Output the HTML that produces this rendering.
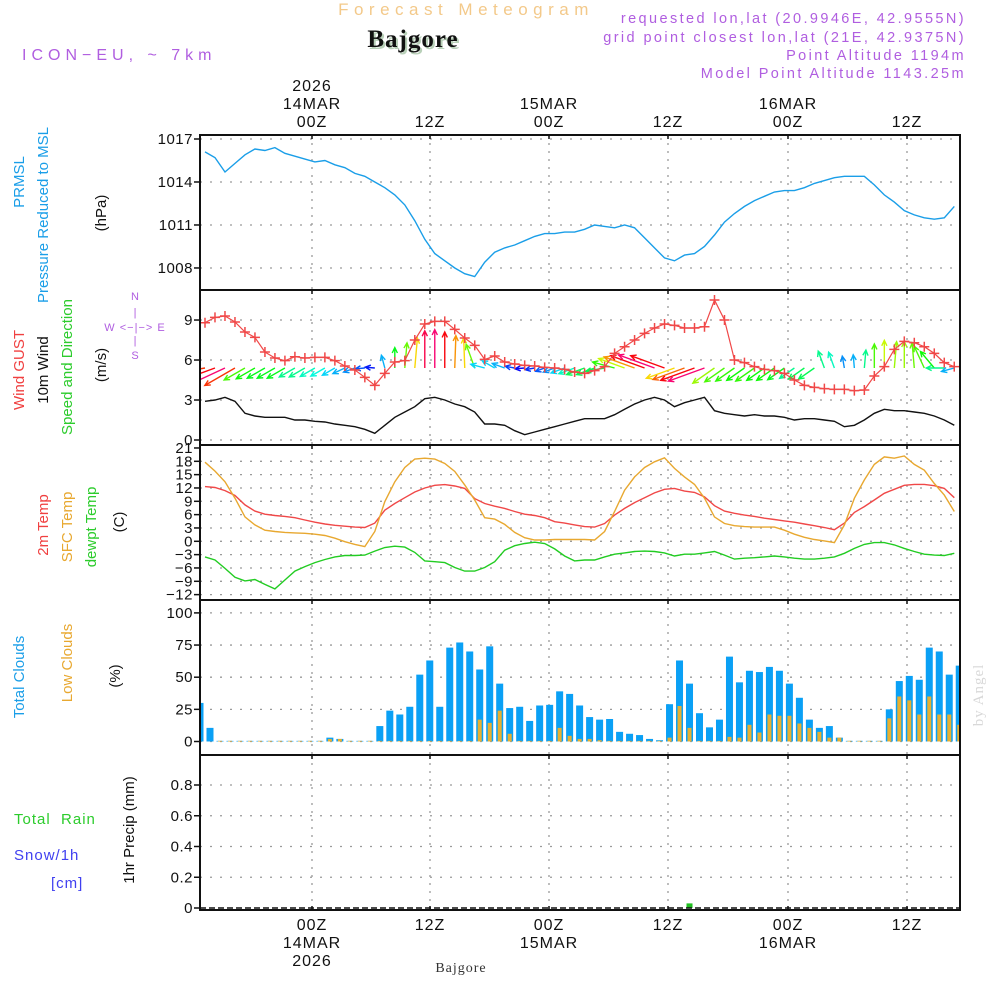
<!DOCTYPE html>
<html><head><meta charset="utf-8"><title>Meteogram Bajgore</title>
<style>
html,body{margin:0;padding:0;background:#fff;}
svg{display:block;font-family:"Liberation Sans",sans-serif;}
.t{font-size:16px;fill:#111;letter-spacing:1px;}
.tick{font-size:15px;fill:#111;text-anchor:end;letter-spacing:0.5px;}
</style></head>
<body>
<svg id="chart" width="1000" height="1000" viewBox="0 0 1000 1000" xmlns="http://www.w3.org/2000/svg">
<text x="466" y="15" text-anchor="middle" style="font-size:17px;fill:#f3c98a;letter-spacing:5.5px">Forecast Meteogram</text>
<text x="415" y="49" text-anchor="middle" style="font-family:'Liberation Serif',serif;font-weight:bold;font-size:25px;fill:#b8d0b8;letter-spacing:1px">Bajgore</text>
<text x="413" y="47" text-anchor="middle" style="font-family:'Liberation Serif',serif;font-weight:bold;font-size:25px;fill:#111;letter-spacing:1px">Bajgore</text>
<text x="22" y="60" style="font-size:16px;fill:#b05ee0;letter-spacing:5px">ICON−EU, ~ 7km</text>
<g style="font-size:14.5px;fill:#b05ee0;letter-spacing:2.4px" text-anchor="end">
<text x="966" y="23">requested lon,lat (20.9946E, 42.9555N)</text>
<text x="966" y="42">grid point closest lon,lat (21E, 42.9375N)</text>
<text x="966" y="60">Point Altitude 1194m</text>
<text x="966" y="78">Model Point Altitude 1143.25m</text>
</g>
<g id="frame"></g>
<g id="marks"></g>
<g id="labels">
<text transform="translate(24,182) rotate(-90)" text-anchor="middle" style="font-size:15px;fill:#1a9ee8">PRMSL</text>
<text transform="translate(48,215) rotate(-90)" text-anchor="middle" style="font-size:15px;fill:#1a9ee8">Pressure Reduced to MSL</text>
<text transform="translate(106,213) rotate(-90)" text-anchor="middle" style="font-size:15px;fill:#111">(hPa)</text>
<text transform="translate(24,370) rotate(-90)" text-anchor="middle" style="font-size:15px;fill:#f04040">Wind GUST</text>
<text transform="translate(48,370) rotate(-90)" text-anchor="middle" style="font-size:15px;fill:#111">10m Wind</text>
<text transform="translate(72,367) rotate(-90)" text-anchor="middle" style="font-size:15px;fill:#2ccc2c">Speed and Direction</text>
<text transform="translate(106,365) rotate(-90)" text-anchor="middle" style="font-size:15px;fill:#111">(m/s)</text>
<g style="font-size:11px;fill:#b05ee0" text-anchor="middle">
<text x="135" y="300">N</text><text x="135" y="331" style="font-size:11px;letter-spacing:1px">W &lt;−|−&gt; E</text><text x="135" y="359">S</text>
<text x="135" y="316">|</text><text x="135" y="344">|</text></g>
<text transform="translate(48,525) rotate(-90)" text-anchor="middle" style="font-size:15px;fill:#f04040">2m Temp</text>
<text transform="translate(72,527) rotate(-90)" text-anchor="middle" style="font-size:15px;fill:#e8a830">SFC Temp</text>
<text transform="translate(96,527) rotate(-90)" text-anchor="middle" style="font-size:15px;fill:#2ccc2c">dewpt Temp</text>
<text transform="translate(124,522) rotate(-90)" text-anchor="middle" style="font-size:15px;fill:#111">(C)</text>
<text transform="translate(24,677) rotate(-90)" text-anchor="middle" style="font-size:15px;fill:#1a9ee8">Total Clouds</text>
<text transform="translate(72,663) rotate(-90)" text-anchor="middle" style="font-size:15px;fill:#e8a830">Low Clouds</text>
<text transform="translate(120,676) rotate(-90)" text-anchor="middle" style="font-size:15px;fill:#111">(%)</text>
<text x="14" y="824" style="font-size:15px;fill:#2ccc2c;letter-spacing:1px" xml:space="preserve">Total  Rain</text>
<text x="14" y="860" style="font-size:15px;fill:#4040f0;letter-spacing:1px">Snow/1h</text>
<text x="51" y="888" style="font-size:15px;fill:#4040f0;letter-spacing:1px">[cm]</text>
<text transform="translate(134,830) rotate(-90)" text-anchor="middle" style="font-size:15px;fill:#111">1hr Precip (mm)</text>
<text transform="translate(983,695) rotate(-90)" text-anchor="middle" style="font-family:'Liberation Serif',serif;font-size:15px;fill:#d8d8d8;letter-spacing:1px">by Angel</text>
<text x="461" y="972" text-anchor="middle" style="font-family:'Liberation Serif',serif;font-size:14px;fill:#333;letter-spacing:1px">Bajgore</text>
</g>
</svg>
<script>
// ---- data (hourly index) ----
const timeTickPx = [312, 430, 549, 668, 788, 907];
const timeTickLabels = ["00Z", "12Z", "00Z", "12Z", "00Z", "12Z"];
const dayLabels = ["14MAR", "", "15MAR", "", "16MAR", ""];
const pressure = [1016.1,1015.7,1014.7,1015.3,1015.9,1016.3,1016.2,1016.4,1016.0,1015.8,1015.6,1015.4,1015.5,1015.2,1015.0,1014.6,1014.4,1014.0,1013.6,1013.1,1012.4,1011.3,1010.0,1009.0,1008.5,1008.0,1007.6,1007.4,1008.4,1009.1,1009.4,1009.6,1009.9,1010.2,1010.4,1010.4,1010.5,1010.5,1010.7,1011.0,1010.9,1010.8,1011.0,1010.8,1010.1,1009.4,1008.7,1008.5,1008.9,1009.0,1009.5,1010.3,1011.2,1011.8,1012.3,1012.7,1013.0,1013.3,1013.4,1013.4,1013.6,1013.9,1014.1,1014.3,1014.4,1014.4,1014.4,1013.8,1013.1,1012.6,1012.0,1011.7,1011.5,1011.4,1011.5,1012.3];
const pressureTicks = [1017, 1014, 1011, 1008];
const gust = [8.8,9.2,9.3,8.85,8.1,7.7,6.6,6.15,5.95,6.25,6.15,6.2,6.2,5.95,5.55,5.25,4.7,4.1,5.0,5.85,5.95,7.5,8.7,8.9,8.9,8.3,7.65,7.1,6.05,6.3,5.85,5.7,5.6,5.55,5.45,5.4,5.3,5.1,5.0,5.2,5.5,6.5,7.0,7.5,8.0,8.4,8.7,8.6,8.4,8.4,8.5,10.5,9.0,6.0,5.8,5.5,5.3,5.2,5.0,4.5,4.1,3.95,3.85,3.8,3.8,3.7,3.75,4.8,5.5,6.8,7.4,7.3,7.0,6.5,5.8,5.5];
const wind10 = [2.9,3.0,3.2,2.9,2.0,1.8,1.7,1.7,1.7,1.5,1.5,1.4,1.35,1.2,1.1,1.0,0.8,0.5,1.1,1.7,2.1,2.5,3.1,3.2,3.0,2.7,2.5,2.1,1.2,1.2,1.1,0.7,0.4,0.6,0.8,1.0,1.2,1.4,1.6,1.6,1.6,1.9,2.3,2.7,3.0,3.2,3.0,2.5,2.8,3.0,3.2,2.2,2.0,1.9,1.8,1.9,1.8,1.8,1.7,1.5,1.6,1.6,1.5,1.4,1.0,1.1,1.5,2.0,2.3,2.2,2.2,2.1,2.0,1.8,1.5,1.1];
const windArrowDir = [190,200,205,210,210,210,210,210,210,210,210,210,210,210,205,200,185,175,105,90,85,85,90,90,90,88,92,110,165,150,160,170,185,190,200,200,200,200,200,200,190,165,160,160,160,160,160,200,200,200,200,215,215,215,215,215,215,215,215,215,215,215,110,110,100,95,85,90,90,85,90,95,115,130,180,195];
const windTicks = [9, 6, 3, 0];
const temp2m = [12.3,12.1,11.4,10.3,8.2,6.8,6.1,5.8,5.6,5.3,4.8,4.3,3.9,3.6,3.4,3.2,3.1,4.1,7.0,8.5,9.8,11.1,12.0,12.6,12.75,12.45,11.9,9.6,8.5,7.9,7.4,6.7,6.1,5.8,5.3,4.4,4.1,3.7,3.3,3.2,4.0,5.9,7.4,8.7,9.8,10.9,11.7,11.9,11.3,11.0,10.0,8.0,6.8,6.3,5.9,5.6,5.2,4.9,4.6,4.3,3.9,3.5,3.1,2.6,4.1,6.5,7.8,9.3,10.8,11.7,12.6,12.8,12.8,12.5,11.9,9.8];
const tempSfc = [17.8,15.8,13.4,9.7,5.5,3.7,2.5,2.2,2.0,1.9,1.8,1.6,1.3,0.7,-0.1,-0.7,-1.2,2.2,8.9,13.4,16.6,18.5,18.7,18.5,17.5,15.7,12.7,9.3,5.3,5.0,3.8,2.0,0.8,0.3,0.3,0.4,0.4,0.4,0.4,0.3,2.2,6.7,11.5,14.5,16.6,17.9,18.8,16.4,14.5,12.8,9.7,5.5,4.0,3.5,3.3,3.2,3.2,3.2,2.5,1.6,0.9,0.4,0.1,-0.3,3.7,9.7,13.8,17.3,19.0,18.7,19.2,17.3,16.0,13.0,10.4,6.7];
const dewpt = [-3.5,-4.2,-6.1,-8.1,-8.9,-8.6,-9.7,-10.7,-8.7,-6.7,-5.7,-4.8,-4.1,-3.5,-3.2,-3.2,-3.1,-2.2,-1.4,-1.1,-1.3,-2.5,-4.4,-4.6,-4.8,-5.9,-6.7,-6.7,-5.9,-4.6,-2.0,-1.0,-0.5,-0.2,-0.5,-1.7,-3.3,-4.4,-4.2,-4.2,-3.5,-2.9,-2.6,-2.3,-2.2,-2.3,-2.6,-3.3,-2.9,-2.9,-2.6,-2.3,-3.1,-4.0,-3.8,-3.7,-3.5,-3.3,-3.5,-3.8,-4.0,-4.0,-3.8,-3.5,-2.7,-1.6,-0.7,-0.3,-0.3,-0.8,-1.6,-2.3,-2.9,-3.1,-3.2,-2.7];
const tempTicks = [21,18,15,12,9,6,3,0,-3,-6,-9,-12];
const totalClouds = [30,10.6,0.5,0.5,0.5,0.5,0.5,0.5,0.5,0.5,0.5,0.5,0.5,3,2,0.5,0.5,0.5,12,24,21,27,52,63,27,73,77,70,56,74,45,26,27,16,28,28.5,39,37,28,19,17,17.5,7.5,6,5,2,1,29,63,45,22,11,17,66,46,55,54,58,55,45,34,17,10.6,12,3,0.5,0.5,0.5,0.5,25,47,51,48,73,70,52,59];
const lowClouds = [0,0,0.5,0.5,0.5,0.5,0.5,0.5,0.5,0.5,0.5,0.5,0.5,2,2,0.5,0.5,0.5,0.5,0.5,0.5,0.5,0.5,0.5,0.5,0.5,0.5,0.5,17,14.5,24,6,0.5,0.5,0.5,0.5,10.6,4.4,2,2,1,0.5,0.5,0.5,0.5,0.5,0.5,3,27.6,10.6,0.5,0.5,0.5,3.6,3,13,7,21,20,20,14,10.6,7.5,3,3,0.5,0.5,0.5,0.5,18,35,32,21,35,21,21,13];
const cloudTicks = [100, 75, 50, 25, 0];
const precip = totalClouds.map(() => 0);
precip[49] = 0.03;
const precipTicks = [0.8, 0.6, 0.4, 0.2, 0];

// ---- scales ----
const X0 = 200, X1 = 960;
const xLine = i => 205 + i * 9.99;
const xBar = i => 200 + i * 9.99;
const yP = v => 139 + (1017 - v) * 14.33;
const yW = v => 440 - v * 13.33;
const yT = v => 541.3 - v * 4.444;
const yC = v => 741.5 - v * 1.286;
const yR = v => 908 - v * 153.75;

const NS = "http://www.w3.org/2000/svg";
function mk(tag, attrs, parent) {
  const e = document.createElementNS(NS, tag);
  for (const k in attrs) e.setAttribute(k, attrs[k]);
  parent.appendChild(e);
  return e;
}
const frame = document.getElementById("frame");
const marks = document.getElementById("marks");

const clip = mk("clipPath", {id: "plotclip"}, mk("defs", {}, frame));
mk("rect", {x: X0, y: 135, width: X1 - X0, height: 775}, clip);

const panels = [
  {name: "pressure", top: 135, bot: 290, ticks: pressureTicks, y: yP, fmt: v => v},
  {name: "wind", top: 290, bot: 445, ticks: windTicks, y: yW, fmt: v => v},
  {name: "temperature", top: 445, bot: 600, ticks: tempTicks, y: yT, fmt: v => (v < 0 ? "−" + (-v) : v)},
  {name: "clouds", top: 600, bot: 755, ticks: cloudTicks, y: yC, fmt: v => v},
  {name: "precip", top: 755, bot: 910, ticks: precipTicks, y: yR, fmt: v => v}
];
panels.forEach(p => {
  const g = mk("g", {}, frame);
  
  
  p.ticks.forEach(t => {
    const y = p.y(t);
    if (Math.abs(y - p.bot) > 4 && Math.abs(y - p.top) > 3) {
      const gl = mk("line", {x1: X0, x2: X1, y1: y, y2: y, stroke: "#9a9a9a", "stroke-width": 1.3, "stroke-dasharray": "2,8"}, g);
      
      
    }
    mk("line", {x1: X0 - 6, x2: X0, y1: y, y2: y, stroke: "#111", "stroke-width": 1.5}, g);
    const tl = mk("text", {x: X0 - 7, y: y + 5, class: "tick"}, g);
    tl.textContent = p.fmt(t);
    
    
  });
  timeTickPx.forEach(x => {
    const vl = mk("line", {x1: x, x2: x, y1: p.top, y2: p.bot, stroke: "#9a9a9a", "stroke-width": 1.3, "stroke-dasharray": "2,6"}, g);
    
    
    mk("line", {x1: x, x2: x, y1: p.top, y2: p.top + 4, stroke: "#111", "stroke-width": 1.5}, g);
  });
});

function poly(vals, xf, yf, color, name, w) {
  const pts = vals.map((v, i) => xf(i).toFixed(1) + "," + yf(v).toFixed(1)).join(" ");
  const pl = mk("polyline", {points: pts, fill: "none", stroke: color, "stroke-width": w || 1.4, "clip-path": "url(#plotclip)"}, marks);
  
  
  return pl;
}
poly(pressure, xLine, yP, "#1a9ee8", "pressure-line");

totalClouds.forEach((v, i) => {
  const b = mk("rect", {x: xBar(i) - 3.5, y: yC(v), width: 7, height: yC(0) - yC(v), fill: "#0aa0f5", "clip-path": "url(#plotclip)"}, marks);
  
  
});
lowClouds.forEach((v, i) => {
  const b = mk("rect", {x: xBar(i) - 2, y: yC(v), width: 4, height: yC(0) - yC(v), fill: "#e8b030", "clip-path": "url(#plotclip)"}, marks);
  
  
});
precip.forEach((v, i) => {
  if (v <= 0) return;
  const b = mk("rect", {x: xBar(i) - 3, y: yR(v), width: 6, height: yR(0) - yR(v), fill: "#20c020"}, marks);
  
  
});
const pb = mk("line", {x1: X0, x2: X1, y1: yR(0), y2: yR(0), stroke: "#111", "stroke-width": 1.5, "stroke-dasharray": "6,3"}, marks);



poly(temp2m, xLine, yT, "#f04848", "temp-2m-line");
poly(tempSfc, xLine, yT, "#e8a830", "temp-sfc-line");
poly(dewpt, xLine, yT, "#22cc22", "dewpoint-line");

poly(wind10, xLine, yW, "#111", "wind-10m-line");
const hueStops = [[0.4,240],[0.9,215],[1.3,180],[1.7,125],[2.1,95],[2.4,60],[2.7,35],[2.95,5],[3.15,-25],[3.5,-40]];
function speedHue(s) {
  if (s <= hueStops[0][0]) return hueStops[0][1];
  for (let k = 1; k < hueStops.length; k++) {
    if (s <= hueStops[k][0]) {
      const a = hueStops[k-1], b = hueStops[k];
      return a[1] + (b[1]-a[1]) * (s-a[0]) / (b[0]-a[0]);
    }
  }
  return hueStops[hueStops.length-1][1];
}
windArrowDir.forEach((d, i) => {
  const s = wind10[i];
  const len = 12 * Math.max(s, 0.8);
  const x0 = xLine(i), y0 = 368;
  const r = d * Math.PI / 180;
  const x1 = x0 + len * Math.cos(r), y1 = y0 - len * Math.sin(r);
  const h = 6, a1 = r + Math.PI - 0.45, a2 = r + Math.PI + 0.45;
  const col = "hsl(" + ((speedHue(s) + 360) % 360).toFixed(0) + ",95%,50%)";
  const ar = mk("path", {d: `M${x0},${y0}L${x1},${y1}M${x1+h*Math.cos(a1)},${y1-h*Math.sin(a1)}L${x1},${y1}L${x1+h*Math.cos(a2)},${y1-h*Math.sin(a2)}`, fill: "none", stroke: col, "stroke-width": 1.4, "clip-path": "url(#plotclip)"}, marks);
  
  
});
poly(gust, xLine, yW, "#f04848", "gust-line", 1.2);
gust.forEach((v, i) => {
  const x = xLine(i), y = yW(v);
  const m = mk("path", {d: `M${x-5},${y}H${x+5}M${x},${y-5}V${y+5}`, stroke: "#f04848", "stroke-width": 1.5, "clip-path": "url(#plotclip)"}, marks);
  
  
});

[135, 290, 445, 600, 755, 910].forEach(y => {
  const l = mk("line", {x1: X0 - 1, x2: X1 + 1, y1: y, y2: y, stroke: "#111", "stroke-width": 2}, frame.parentNode);
  
  
});
[X0, X1].forEach(x => {
  const l = mk("line", {x1: x, x2: x, y1: 135, y2: 910, stroke: "#111", "stroke-width": 2}, frame.parentNode);
  
  
});

const svg = document.getElementById("chart");
function tlabel(x, y, txt, name) {
  const t = mk("text", {x: x, y: y, class: "t", "text-anchor": "middle"}, svg);
  t.textContent = txt;
  
  
}
timeTickPx.forEach((x, k) => {
  tlabel(x, 127, timeTickLabels[k], 'top-time-label');
  if (dayLabels[k]) tlabel(x, 109, dayLabels[k], 'top-date-label');
  tlabel(x, 930, timeTickLabels[k], 'bottom-time-label');
  if (dayLabels[k]) tlabel(x, 948, dayLabels[k], 'bottom-date-label');
  mk("line", {x1: x, x2: x, y1: 906, y2: 910, stroke: "#111", "stroke-width": 1.5}, svg);
});
tlabel(timeTickPx[0], 91, "2026", 'top-year-label');
tlabel(timeTickPx[0], 966, "2026", 'bottom-year-label');
</script>
</body></html>
